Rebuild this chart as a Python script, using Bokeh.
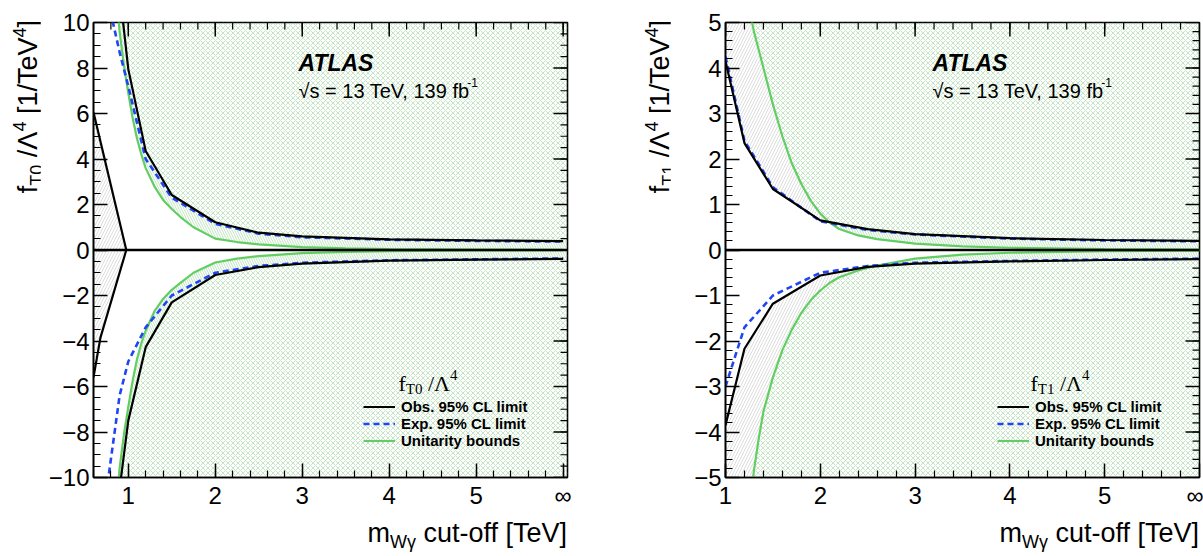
import numpy as np
from bokeh.plotting import figure
from bokeh.models import Range1d, LinearAxis, FixedTicker, Label, Legend, LegendItem, Span, Div
from bokeh.layouts import row, column
from bokeh.embed import file_html
from bokeh.resources import INLINE

# ---------------- data ----------------
# left panel : f_T0 / Lambda^4
t0_obs_x = [0.9, 1.0, 1.2, 1.5, 2.0, 2.5, 3.0, 4.0, 5.0, 6.0]
t0_obs_up = [11.4, 7.95, 4.35, 2.42, 1.22, 0.76, 0.60, 0.47, 0.42, 0.39]
t0_obs_lo = [-10.5, -7.5, -4.27, -2.30, -1.10, -0.75, -0.60, -0.47, -0.42, -0.39]
t0_exp_x = [0.7, 0.8, 0.9, 1.0, 1.2, 1.5, 2.0, 2.5, 3.0, 4.0, 5.0, 6.0]
t0_exp_up = [14.0, 10.4, 8.7, 7.2, 4.0, 2.30, 1.15, 0.72, 0.56, 0.45, 0.40, 0.37]
t0_exp_lo = [-12.0, -9.2, -6.4, -4.9, -3.4, -2.0, -1.0, -0.70, -0.56, -0.45, -0.41, -0.37]
t0_uni_x = [0.6, 0.7, 0.8, 0.85, 0.9, 0.95, 1.0, 1.05, 1.1, 1.15, 1.2, 1.3, 1.4, 1.5, 1.6, 1.75,
            2.0, 2.25, 2.5, 3.0, 3.5, 4.0, 5.0, 6.0]
t0_uni_up = [48, 26, 15.2, 12.0, 9.6, 8.1, 6.9, 5.8, 4.9, 4.2, 3.6, 2.8, 2.2, 1.8, 1.45, 1.0,
             0.5, 0.35, 0.25, 0.13, 0.07, 0.045, 0.02, 0.01]
t0_uni_lo = [-48, -26, -15.2, -12.0, -9.6, -8.1, -6.9, -5.75, -4.8, -4.1, -3.55, -2.7, -2.15, -1.75, -1.45, -1.0,
             -0.55, -0.38, -0.27, -0.14, -0.08, -0.05, -0.02, -0.01]
t0_edge_x_up = [0.6, 0.977]
t0_edge_up = [6.05, 0.0]
t0_edge_x_lo = [0.6, 0.68, 0.977]
t0_edge_lo = [-5.6, -3.85, 0.0]

# right panel : f_T1 / Lambda^4
t1_obs_x = [1.0, 1.2, 1.5, 2.0, 2.5, 3.0, 4.0, 5.0, 6.0]
t1_obs_up = [4.15, 2.35, 1.34, 0.65, 0.46, 0.35, 0.26, 0.22, 0.20]
t1_obs_lo = [-3.85, -2.17, -1.18, -0.56, -0.37, -0.30, -0.25, -0.22, -0.20]
t1_exp_up = [4.25, 2.40, 1.38, 0.63, 0.44, 0.34, 0.25, 0.21, 0.19]
t1_exp_lo = [-3.0, -1.70, -1.00, -0.50, -0.35, -0.28, -0.24, -0.21, -0.19]
t1_uni_x = [1.0, 1.1, 1.2, 1.28, 1.3, 1.35, 1.4, 1.5, 1.6, 1.7, 1.8, 1.9, 2.0, 2.1, 2.2, 2.4, 2.6,
            3.0, 3.5, 4.0, 5.0, 6.0]
t1_uni_up = [12.5, 8.5, 6.3, 5.0, 4.8, 4.4, 4.0, 3.2, 2.5, 1.9, 1.45, 1.08, 0.80, 0.60, 0.46, 0.32, 0.24,
             0.14, 0.08, 0.05, 0.02, 0.01]
t1_uni_lo = [-13.0, -9.0, -6.5, -5.2, -4.85, -4.15, -3.55, -2.8, -2.2, -1.75, -1.38, -1.1, -0.89, -0.72,
             -0.60, -0.45, -0.34, -0.19, -0.10, -0.06, -0.025, -0.012]

# ticks
x_ticks = [1, 2, 3, 4, 5, 6]
x_tick_labels = ["1", "2", "3", "4", "5", "\u221e"]
t0_y_ticks = [-10, -8, -6, -4, -2, 0, 2, 4, 6, 8, 10]
t1_y_ticks = [-5, -4, -3, -2, -1, 0, 1, 2, 3, 4, 5]
legend_labels = ["Obs. 95% CL limit", "Exp. 95% CL limit", "Unitarity bounds"]

# ---------------- styling ----------------
SANS = "Liberation Sans"
SERIF = "Liberation Serif"
BLACK = "#000000"
BLUE = "#1f45f5"
GREEN = "#62cd62"
HATCH_GREEN = "#7cc47c"
HATCH_GREY = "#b8b8b8"
FIG_H = 512
TITLE_H = 44

W_SERIF = {' ': 0.25, 'f': 0.333, 'T': 0.611, '0': 0.5, '1': 0.5, '4': 0.5, '/': 0.278, '\u039b': 0.722}
W_SANS = {' ': 0.278, 'f': 0.278, 'b': 0.556, '-': 0.333, '1': 0.556, '3': 0.556, '9': 0.556,
          's': 0.5, '=': 0.584, 'T': 0.611, 'e': 0.556, 'V': 0.667, ',': 0.278, '\u221a': 0.24}


def twidth(s, size, table):
    return sum(table.get(c, 0.55) for c in s) * size


class Cfg:
    def __init__(self, ox, w, fl, ft, fw, fh, xr, yr):
        self.ox, self.w, self.fl, self.ft, self.fw, self.fh = ox, w, fl, ft, fw, fh
        self.xr, self.yr = xr, yr

    def dx(self, px):
        return self.xr[0] + (px - self.ox - self.fl) / self.fw * (self.xr[1] - self.xr[0])

    def dy(self, py):
        return self.yr[1] - (py - self.ft) / self.fh * (self.yr[1] - self.yr[0])


def add_text(p, cfg, px, py, text, size, font=SANS, style="normal"):
    p.add_layout(Label(x=cfg.dx(px), y=cfg.dy(py), text=text, text_font=font,
                       text_font_size=f"{size}px", text_font_style=style, text_color=BLACK,
                       text_align="left", text_baseline="alphabetic"))


def add_rich(p, cfg, px, py, pieces, font=SANS, table=W_SANS):
    """pieces: (text, size, shift_up); leading spaces are turned into offsets"""
    x = px
    for t, s, sh in pieces:
        body = t.lstrip(" ")
        lead = twidth(t[:len(t) - len(body)], s, table)
        add_text(p, cfg, x + lead, py - sh, body, s, font=font)
        x += twidth(t, s, table)


def style_axis(ax, labels):
    ax.axis_line_width = 1.6
    ax.axis_line_color = BLACK
    ax.major_tick_in = 14
    ax.major_tick_out = 0
    ax.minor_tick_in = 7
    ax.minor_tick_out = 0
    ax.major_tick_line_width = 1.5
    ax.minor_tick_line_width = 1.2
    ax.major_tick_line_color = BLACK
    ax.minor_tick_line_color = BLACK
    ax.major_label_text_font = SANS
    ax.major_label_text_color = BLACK
    ax.major_label_text_font_size = "24px"
    ax.major_label_standoff = 4
    ax.major_label_overrides = labels


def hatch_side(p, gx, ox, ov, ux, uv, edge):
    o = np.interp(gx, ox, ov)
    u = np.interp(gx, ux, uv)
    green_x = dict(fill_alpha=0, hatch_pattern="x", hatch_color=HATCH_GREEN,
                   hatch_alpha=0.55, hatch_scale=5, hatch_weight=0.8)
    green_s = dict(fill_alpha=0, hatch_pattern="\\", hatch_color=HATCH_GREEN,
                   hatch_alpha=0.6, hatch_scale=5, hatch_weight=0.8)
    grey_s = dict(fill_alpha=0, hatch_pattern="/", hatch_color=HATCH_GREY,
                  hatch_alpha=0.6, hatch_scale=6, hatch_weight=0.8)
    if edge > 0:
        clip = lambda a: np.minimum(a, edge)
        hi = np.maximum(o, u)
        p.varea(x=gx, y1=clip(hi), y2=np.full_like(gx, edge), **green_x)
        p.varea(x=gx, y1=clip(u), y2=clip(hi), **green_s)
        p.varea(x=gx, y1=clip(o), y2=clip(hi), **grey_s)
    else:
        clip = lambda a: np.maximum(a, edge)
        lo = np.minimum(o, u)
        p.varea(x=gx, y1=np.full_like(gx, edge), y2=clip(lo), **green_x)
        p.varea(x=gx, y1=clip(lo), y2=clip(u), **green_s)
        p.varea(x=gx, y1=clip(lo), y2=clip(o), **grey_s)


def make_panel(cfg, y_ticks, y_minor_step, obs_x, obs_up, obs_lo, exp_x, exp_up, exp_lo,
               uni_x, uni_up, uni_lo, sub, legend_x, title_x, atlas_x):
    p = figure(width=cfg.w, height=FIG_H, x_range=Range1d(*cfg.xr), y_range=Range1d(*cfg.yr),
               output_backend="svg", toolbar_location=None,
               x_axis_type=None, y_axis_type=None,
               min_border_left=cfg.fl, min_border_right=cfg.w - cfg.fl - cfg.fw,
               min_border_top=cfg.ft, min_border_bottom=FIG_H - cfg.ft - cfg.fh)
    p.outline_line_color = BLACK
    p.outline_line_width = 1.6
    p.background_fill_color = "white"
    p.border_fill_color = "white"

    x_minor = [round(v, 2) for v in np.arange(0.2, 6.01, 0.2) if cfg.xr[0] <= v <= cfg.xr[1]]
    y_minor = [round(v, 2) for v in np.arange(cfg.yr[0], cfg.yr[1] + 1e-9, y_minor_step)]
    xlab = {t: l for t, l in zip(x_ticks, x_tick_labels)}
    ylab = {t: (("\u2212" + str(-t)) if t < 0 else str(t)) for t in y_ticks}
    ax = LinearAxis(ticker=FixedTicker(ticks=x_ticks, minor_ticks=x_minor))
    style_axis(ax, xlab)
    p.add_layout(ax, "below")
    ay = LinearAxis(ticker=FixedTicker(ticks=y_ticks, minor_ticks=y_minor))
    style_axis(ay, ylab)
    p.add_layout(ay, "left")

    # hatched regions
    gx = np.linspace(cfg.xr[0], cfg.xr[1], 1400)
    hatch_side(p, gx, obs_x, obs_up, uni_x, uni_up, cfg.yr[1])
    hatch_side(p, gx, obs_x, obs_lo, uni_x, uni_lo, cfg.yr[0])

    # mirrored ticks on top and right frame edges
    tk = dict(line_color=BLACK, length_units="screen")
    p.ray(x=x_ticks, y=[cfg.yr[1]] * len(x_ticks), length=14, angle=-np.pi / 2, line_width=1.5, **tk)
    p.ray(x=x_minor, y=[cfg.yr[1]] * len(x_minor), length=7, angle=-np.pi / 2, line_width=1.2, **tk)
    p.ray(x=[cfg.xr[1]] * len(y_ticks), y=y_ticks, length=14, angle=np.pi, line_width=1.5, **tk)
    p.ray(x=[cfg.xr[1]] * len(y_minor), y=y_minor, length=7, angle=np.pi, line_width=1.2, **tk)

    # lines
    r_uni = p.line(uni_x, uni_up, line_color=GREEN, line_width=2.2)
    p.line(uni_x, uni_lo, line_color=GREEN, line_width=2.2)
    r_exp = p.line(exp_x, exp_up, line_color=BLUE, line_width=2.6, line_dash="6 4")
    p.line(exp_x, exp_lo, line_color=BLUE, line_width=2.6, line_dash="6 4")
    r_obs = p.line(obs_x, obs_up, line_color=BLACK, line_width=2.2)
    p.line(obs_x, obs_lo, line_color=BLACK, line_width=2.2)
    p.add_layout(Span(location=0, dimension="width", line_color=BLACK, line_width=2.5))

    legend = Legend(items=[LegendItem(label=legend_labels[0], renderers=[r_obs]),
                           LegendItem(label=legend_labels[1], renderers=[r_exp]),
                           LegendItem(label=legend_labels[2], renderers=[r_uni])],
                    location=(legend_x - cfg.ox - cfg.fl, 28),
                    border_line_color=None, background_fill_alpha=0,
                    label_text_font=SANS, label_text_font_style="bold",
                    label_text_font_size="15px", label_text_color=BLACK,
                    label_text_line_height=1.0,
                    glyph_width=32, glyph_height=13, label_height=13, label_standoff=6,
                    spacing=0, padding=0, margin=0)
    p.add_layout(legend)

    # texts inside the frame
    add_text(p, cfg, atlas_x, 62, "ATLAS", 23, style="bold italic")
    add_rich(p, cfg, atlas_x, 90, [("\u221as = 13 TeV, 139 fb", 20, 0), ("-1", 12, 8)])
    add_rich(p, cfg, title_x, 383, [("f", 22, 0), (sub, 15, -5), (" /\u039b", 22, 0), ("4", 15, 9)],
             font=SERIF, table=W_SERIF)
    return p


SUP = "font-size:18px;line-height:0;vertical-align:11px"
SUB = "font-size:18px;line-height:0;vertical-align:-6px"
TXT = "font-family:'Liberation Sans',Arial,sans-serif;font-size:27px;line-height:27px;color:#000;white-space:nowrap"


def ylabel_div(width, glyph_top_x, sub):
    html = (f'<div style="position:relative;width:{width}px;height:{FIG_H}px;">'
            f'<div style="position:absolute;right:{width - glyph_top_x}px;top:20px;'
            f'transform-origin:100% 0;transform:rotate(-90deg);{TXT}">'
            f'f<span style="{SUB}">{sub}</span> /\u039b<span style="{SUP}">4</span>'
            f' [1/TeV<span style="{SUP}">4</span>]</div></div>')
    return Div(text=html, width=width, height=FIG_H, margin=0)


def xlabel_div(width, right_gap):
    html = (f'<div style="position:relative;width:{width}px;height:{TITLE_H}px;">'
            f'<div style="position:absolute;right:{right_gap}px;top:8px;{TXT}">'
            f'm<span style="{SUB}">W\u03b3</span> cut-off [TeV]</div></div>')
    return Div(text=html, width=width, height=TITLE_H, margin=0)


cfg0 = Cfg(ox=40, w=560, fl=53, ft=22, fw=474, fh=455, xr=(0.6, 6.05), yr=(-10, 10))
cfg1 = Cfg(ox=670, w=533, fl=55, ft=22, fw=474, fh=455, xr=(1.0, 6.0), yr=(-5, 5))

p0 = make_panel(cfg0, t0_y_ticks, 0.5, t0_obs_x, t0_obs_up, t0_obs_lo, t0_exp_x, t0_exp_up, t0_exp_lo,
                t0_uni_x, t0_uni_up, t0_uni_lo, "T0", 363, 398, 298)
# grey region left of the 1 TeV cut-off
p0.patch(t0_edge_x_up + t0_edge_x_lo[::-1], t0_edge_up + t0_edge_lo[::-1], fill_alpha=0, line_alpha=0,
         hatch_pattern="/", hatch_color=HATCH_GREY, hatch_alpha=0.6, hatch_scale=6, hatch_weight=0.8)
p0.line(t0_edge_x_up, t0_edge_up, line_color=BLACK, line_width=2.2)
p0.line(t0_edge_x_lo, t0_edge_lo, line_color=BLACK, line_width=2.2)

p1 = make_panel(cfg1, t1_y_ticks, 0.2, t1_obs_x, t1_obs_up, t1_obs_lo, t1_obs_x, t1_exp_up, t1_exp_lo,
                t1_uni_x, t1_uni_up, t1_uni_lo, "T1", 997, 1030, 932)

layout = column(
    row(ylabel_div(40, 15, "T0"), p0, ylabel_div(70, 47, "T1"), p1),
    row(xlabel_div(600, 33), xlabel_div(603, 4)),
)
open("out.html", "w").write(file_html(layout, INLINE, title="ATLAS aQGC limits vs cut-off"))
